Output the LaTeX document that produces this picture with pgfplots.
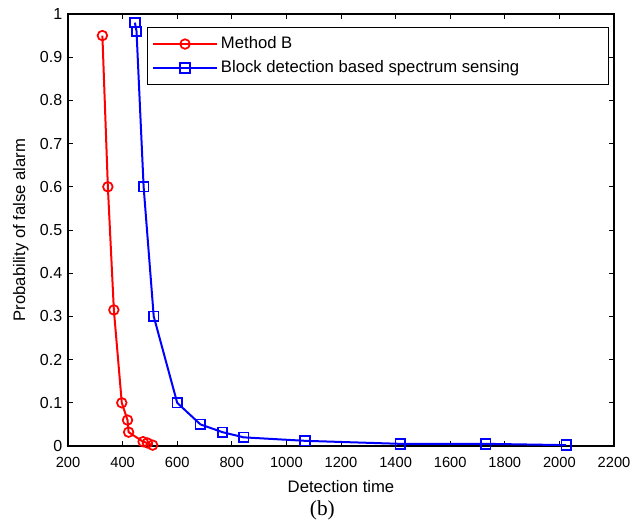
\documentclass[border=0pt]{standalone}
\usepackage{fontspec}
\setmainfont{Liberation Sans}
\newfontfamily\capfont{Liberation Serif}
\usepackage{pgfplots}
\pgfplotsset{compat=1.18}

\begin{document}
\fontsize{12.5}{15}\selectfont
\begin{tikzpicture}
\begin{axis}[
  scale only axis, width=409.5pt, height=324pt,
  xmin=200, xmax=2200, ymin=0, ymax=1,
  xtick={200,400,...,2200}, ytick={0,0.1,...,1},
  yticklabels={0,0.1,0.2,0.3,0.4,0.5,0.6,0.7,0.8,0.9,1},
  /pgf/number format/assume math mode=true,
  /pgf/number format/1000 sep={},
  yticklabel style={font=\fontsize{12}{14}\selectfont},
  xticklabel style={font=\fontsize{11}{13}\selectfont, yshift=-4pt},
  label style={font=\fontsize{12.5}{15}\selectfont},
  xlabel={Detection time},
  xlabel style={yshift=-1pt},
  ylabel={Probability of false alarm},
  axis line style={line width=0.9pt},
  tick style={black, line width=0.6pt},
  major tick length=4pt,
  tick align=inside,
  legend style={at={(rel axis cs:0.991,0.970)}, anchor=north east, draw=black, line width=0.7pt,
    font=\fontsize{12.5}{15}\selectfont, row sep=3pt, inner ysep=5pt},
  legend cell align=left,
  legend image code/.code={\draw[mark repeat=2, mark phase=2, #1] plot coordinates {(0cm,0cm) (0.85cm,0cm) (1.7cm,0cm)};},
]
\addplot[red, line width=1.5pt, mark=o, mark size=3.6pt, mark options={line width=1.3pt}] coordinates {
  (326,0.95) (346,0.6) (368,0.315) (397,0.1) (418,0.06) (422,0.032) (475,0.01) (491,0.007) (510,0.002)};
\addlegendentry{Method B}
\addplot[blue, line width=1.5pt, mark=square, mark size=3.6pt, mark options={line width=1.3pt}] coordinates {
  (445,0.98) (451,0.96) (477,0.6) (514,0.3) (600,0.1) (685,0.05) (766,0.032) (844,0.02)
  (1068,0.012) (1417,0.005) (1730,0.005) (2025,0.002)};
\addlegendentry{Block detection based spectrum sensing\hspace*{62pt}}
\end{axis}
\node[font=\capfont\fontsize{16}{18}\selectfont, inner sep=0pt] at (current axis.south) [xshift=-14pt, yshift=-48pt] {(b)};
\pgfresetboundingbox
\path (current axis.south west) ++(-51pt,-57.75pt) coordinate (bbsw);
\path (current axis.north east) ++(12pt,10.5pt) coordinate (bbne);
\useasboundingbox (bbsw) rectangle (bbne);
\end{tikzpicture}
\end{document}
